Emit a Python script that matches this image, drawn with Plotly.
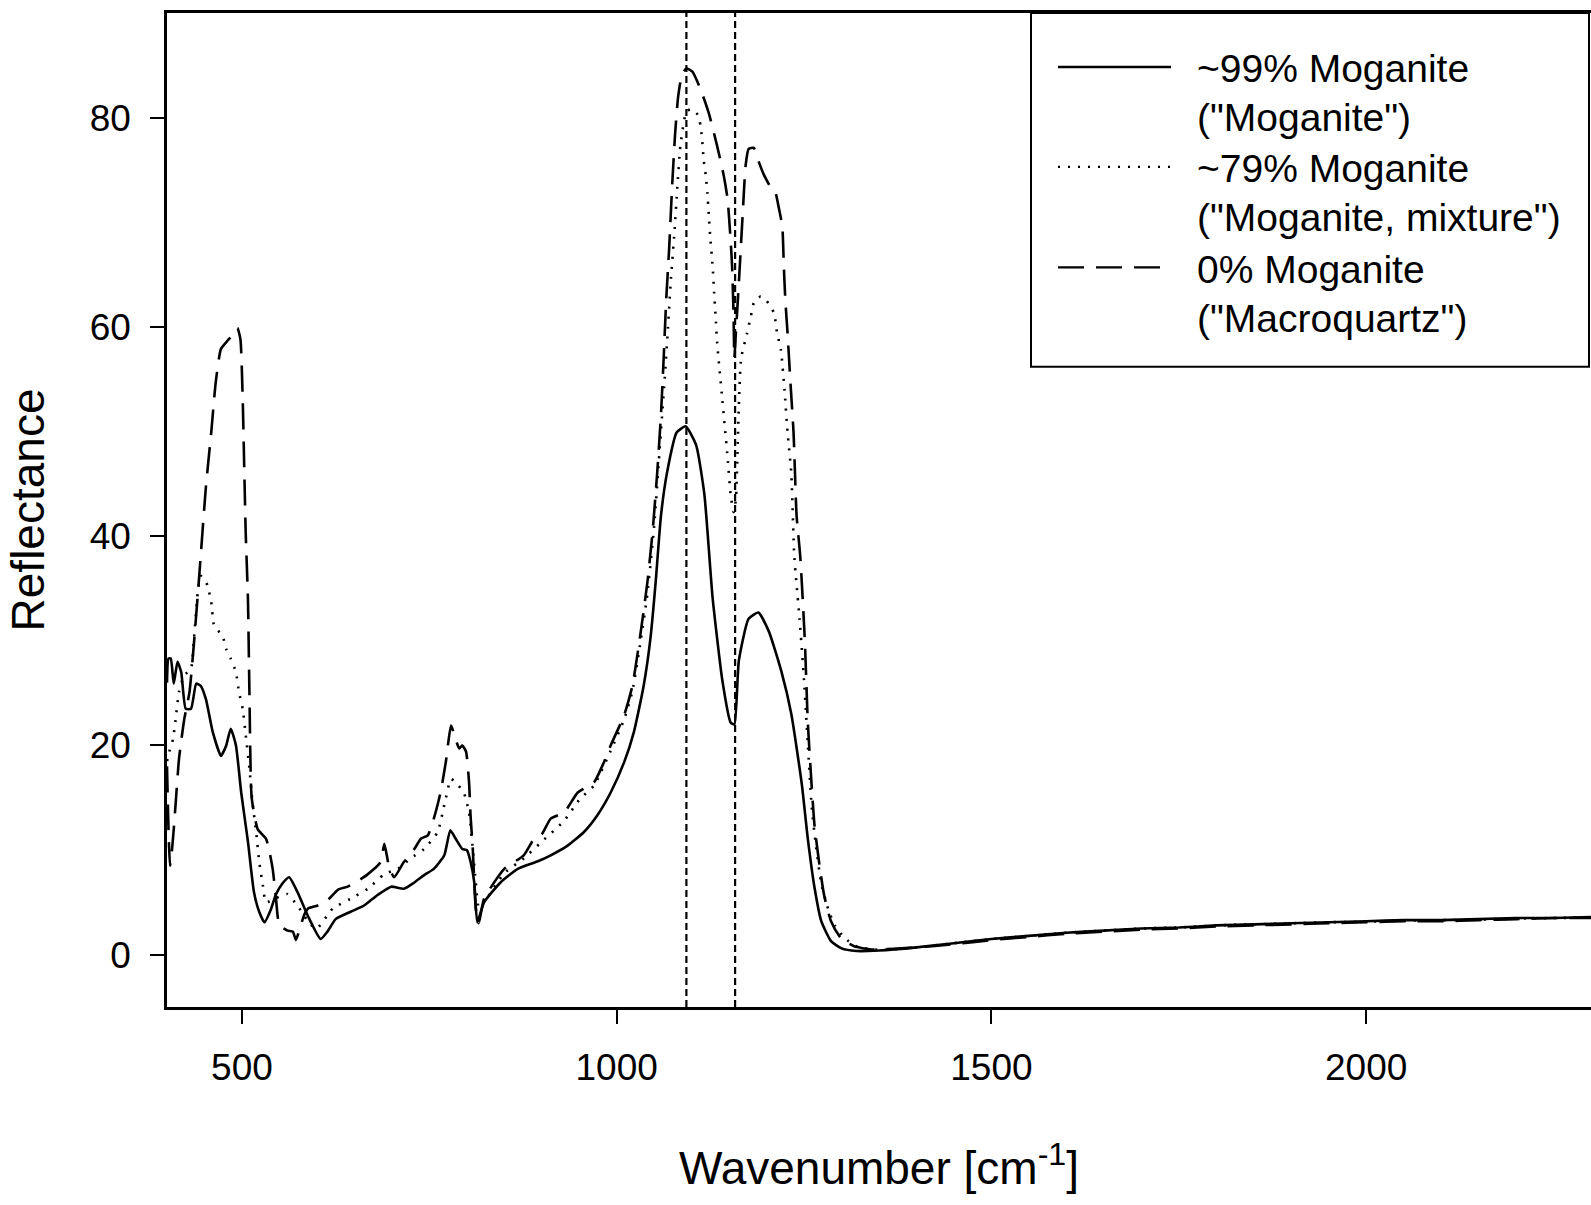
import plotly.graph_objects as go

# ---------------- data ----------------
moganite_99_wn = [400, 402, 405, 409, 414, 419, 425, 432, 439, 445, 452, 461, 472, 479, 485, 492,
                  499, 508, 516, 523, 530, 539, 545, 554, 563, 574, 588, 605, 614, 625, 645, 663,
                  681, 699, 716, 730, 743, 756, 770, 778, 785, 794, 800, 805, 810, 814, 823, 845,
                  868, 894, 912, 934, 956, 974, 992, 1010, 1023, 1036, 1045, 1052, 1059, 1067, 1080,
                  1092, 1106, 1117, 1128, 1141, 1152, 1157, 1163, 1176, 1189, 1203, 1220, 1233, 1247,
                  1255, 1264, 1273, 1286, 1300, 1320, 1350, 1400, 1450, 1500, 1550, 1600, 1650, 1700,
                  1750, 1800, 1850, 1900, 1950, 2000, 2050, 2100, 2150, 2200, 2250, 2300]
moganite_99_r = [26.0, 28.3, 28.3, 25.9, 28.0, 27.0, 23.5, 23.5, 25.9, 25.7, 24.4, 21.3, 19.0, 20.0, 21.6, 20.0,
                 15.5, 10.8, 6.0, 4.1, 3.1, 4.4, 5.7, 6.8, 7.4, 6.0, 3.7, 1.5, 2.2, 3.4, 4.1, 4.7,
                 5.7, 6.5, 6.3, 6.9, 7.6, 8.2, 9.5, 11.9, 11.1, 10.1, 10.0, 8.9, 6.9, 3.1, 5.0, 6.9,
                 8.2, 8.9, 9.5, 10.4, 11.7, 13.3, 15.5, 18.4, 21.3, 25.7, 30.2, 35.6, 41.9, 46.0, 49.9,
                 50.5, 48.7, 44.0, 34.1, 26.2, 22.2, 22.0, 28.1, 32.1, 32.7, 30.9, 27.0, 23.0, 16.3,
                 11.1, 6.4, 3.2, 1.3, 0.6, 0.35, 0.4, 0.7, 1.1, 1.5, 1.8, 2.1, 2.3, 2.5,
                 2.6, 2.8, 2.9, 3.0, 3.1, 3.2, 3.3, 3.3, 3.4, 3.5, 3.5, 3.6]

moganite_79_wn = [400, 403, 408, 412, 416, 423, 432, 436, 441, 445, 450, 454, 459, 463, 474, 479,
                  485, 492, 496, 501, 505, 510, 514, 519, 523, 528, 532, 545, 560, 575, 590, 600,
                  621, 645, 668, 690, 708, 725, 743, 761, 770, 779, 787, 796, 803, 808, 812, 816,
                  823, 850, 876, 900, 930, 950, 970, 992, 1010, 1021, 1032, 1041, 1050, 1058, 1064,
                  1068, 1072, 1077, 1081, 1085, 1093, 1099, 1108, 1112, 1114, 1116, 1119, 1121, 1123,
                  1125, 1128, 1130, 1132, 1134, 1141, 1148, 1152, 1156, 1159, 1161, 1163, 1166, 1174,
                  1179, 1183, 1192, 1200, 1210, 1214, 1219, 1224, 1228, 1233, 1237, 1244, 1250, 1255,
                  1260, 1266, 1273, 1282, 1291, 1304, 1320, 1350, 1400, 1450, 1500, 1550, 1600, 1650,
                  1700, 1750, 1800, 1850, 1900, 1950, 2000, 2050, 2100, 2150, 2200, 2250, 2300]
moganite_79_r = [18.5, 19.4, 20.6, 22.8, 25.1, 26.7, 27.3, 30.2, 34.6, 36.2, 35.8, 35.3, 33.7, 31.4, 30.5, 29.2,
                 28.3, 27.0, 25.1, 23.5, 21.0, 17.8, 14.6, 11.7, 8.9, 6.6, 5.0, 5.4, 5.8, 4.6, 3.0, 2.5,
                 4.4, 5.35, 6.3, 7.7, 8.2, 9.2, 10.1, 11.7, 14.3, 16.8, 16.3, 15.5, 13.6, 10.1, 6.9, 4.5,
                 5.0, 7.8, 9.2, 10.8, 12.8, 14.8, 16.2, 19.5, 22.5, 25.2, 30.0, 34.5, 41.0, 49.0, 55.0,
                 59.4, 64.2, 69.0, 73.4, 77.3, 80.6, 80.8, 80.3, 79.2, 77.9, 76.0, 74.4, 72.8, 70.6,
                 68.4, 65.8, 63.3, 61.0, 58.5, 53.0, 47.5, 44.0, 42.3, 43.5, 47.5, 52.5, 57.0, 59.4,
                 61.0, 62.3, 62.9, 62.5, 61.3, 59.4, 57.85, 53.9, 49.9, 46.0, 38.0, 32.1, 26.2, 20.2,
                 14.3, 10.3, 6.8, 4.4, 2.8, 1.6, 0.8, 0.45, 0.7, 1.1, 1.5, 1.8, 2.1, 2.3,
                 2.5, 2.6, 2.8, 2.9, 3.0, 3.1, 3.15, 3.25, 3.3, 3.35, 3.45, 3.5, 3.55]

macroquartz_wn = [400, 402, 404, 406, 409, 412, 416, 423, 430, 436, 443, 452, 459, 465, 472, 481,
                  490, 494, 498, 501, 503, 505, 508, 510, 513, 521, 532, 536, 541, 545, 550, 561,
                  568, 572, 576, 583, 588, 601, 614, 628, 641, 656, 668, 685, 690, 696, 703, 716,
                  730, 739, 748, 756, 765, 772, 779, 785, 790, 794, 799, 803, 805, 808, 810, 812,
                  816, 823, 850, 876, 890, 900, 912, 930, 948, 970, 983, 992, 1010, 1021, 1032,
                  1041, 1048, 1054, 1059, 1063, 1066, 1070, 1074, 1078, 1082, 1087, 1093, 1101,
                  1112, 1123, 1134, 1143, 1148, 1152, 1154, 1156, 1157, 1159, 1163, 1168, 1172,
                  1176, 1183, 1190, 1196, 1205, 1212, 1216, 1221, 1223, 1225, 1228, 1232, 1236,
                  1240, 1245, 1251, 1255, 1260, 1264, 1271, 1277, 1286, 1299, 1317, 1340, 1400,
                  1450, 1500, 1550, 1600, 1650, 1700, 1750, 1800, 1850, 1900, 1950, 2000, 2050,
                  2100, 2150, 2200, 2250, 2300]
macroquartz_r = [18.0, 12.0, 8.5, 9.5, 12.0, 14.9, 18.7, 22.5, 25.1, 29.8, 36.2, 44.8, 49.9, 54.7, 57.9, 58.7,
                 59.4, 59.9, 58.8, 53.1, 46.7, 40.4, 34.0, 25.0, 15.0, 12.0, 11.1, 10.1, 8.2, 5.7, 2.8, 2.3,
                 2.2, 1.4, 2.2, 3.8, 4.4, 4.7, 5.2, 6.2, 6.5, 7.1, 7.7, 8.85, 10.6, 8.5, 7.4, 8.85,
                 10.1, 11.1, 11.4, 13.0, 15.5, 18.4, 21.9, 20.6, 19.7, 20.0, 19.4, 16.5, 13.3, 10.1, 6.9, 4.4,
                 3.0, 5.35, 8.2, 9.5, 11.1, 11.5, 13.0, 13.6, 15.5, 16.5, 18.4, 20.0, 22.9, 25.7, 30.8,
                 35.6, 40.5, 46.0, 51.5, 57.5, 62.5, 67.5, 73.5, 78.5, 82.0, 84.1, 84.7, 84.4,
                 82.7, 80.4, 77.3, 74.4, 72.2, 68.3, 65.8, 61.0, 57.0, 59.4, 64.2, 70.6, 75.4,
                 77.0, 77.1, 75.7, 74.6, 73.4, 72.8, 71.5, 69.6, 65.8, 62.6, 59.4, 54.5, 49.9,
                 42.0, 38.0, 30.1, 22.2, 16.3, 12.3, 8.35, 5.6, 3.2, 1.6, 0.8, 0.5, 0.7,
                 1.0, 1.4, 1.7, 2.0, 2.2, 2.4, 2.5, 2.7, 2.8, 2.9, 3.0, 3.1, 3.2,
                 3.2, 3.3, 3.4, 3.5, 3.5]

series_labels = ["~99% Moganite", "~79% Moganite", "0% Moganite"]
series_sublabels = ['("Moganite")', '("Moganite, mixture")', '("Macroquartz")']
reference_lines_wn = [1093, 1158]
x_ticks = [500, 1000, 1500, 2000]
y_ticks = [0, 20, 40, 60, 80]

# ---------------- styling / layout (pixels of the 1591x1205 page) ----------------
FONT = "Liberation Sans, Arial, sans-serif"
W, H = 1591, 1205
ML, MR, MT, MB = 167, 0, 13, 197.5
PW, PH = W - ML - MR, H - MT - MB
DASHES = [None, "2px,8px", "26px,12px"]


def px_x(px):
    return (px - ML) / PW


def px_y(py):
    return (H - MB - py) / PH


fig = go.Figure()
series = [(moganite_99_wn, moganite_99_r), (moganite_79_wn, moganite_79_r), (macroquartz_wn, macroquartz_r)]
for (wn, r), lab, sub, dash in zip(series, series_labels, series_sublabels, DASHES):
    fig.add_trace(go.Scatter(x=wn, y=r, mode="lines", name=f"{lab} {sub}", showlegend=False,
                             line=dict(color="black", width=2.6, dash=dash, shape="spline", smoothing=0.5)))

for wn in reference_lines_wn:
    fig.add_shape(type="line", xref="x", yref="paper", x0=wn, x1=wn, y0=0, y1=1,
                  line=dict(color="black", width=2.2, dash="7px,4px"), layer="above")

# ---- legend box drawn like the original (long line keys, two-line labels) ----
fig.add_shape(type="rect", xref="paper", yref="paper",
              x0=px_x(1031), x1=px_x(1589), y0=px_y(367), y1=px_y(13),
              line=dict(color="black", width=2), fillcolor="white", layer="above")
entry_top = [69, 169, 269.5]
line_gap = 49
for i, (lab, sub, dash) in enumerate(zip(series_labels, series_sublabels, DASHES)):
    y0 = entry_top[i]
    fig.add_shape(type="line", xref="paper", yref="paper",
                  x0=px_x(1058), x1=px_x(1171), y0=px_y(y0 - 2), y1=px_y(y0 - 2),
                  line=dict(color="black", width=2.4, dash=dash), layer="above")
    for j, txt in enumerate([lab, sub]):
        fig.add_annotation(xref="paper", yref="paper", x=px_x(1195), y=px_y(y0 + j * line_gap),
                           xanchor="left", yanchor="middle", text=txt, showarrow=False,
                           font=dict(family=FONT, size=39, color="black"))

fig.update_layout(
    width=W, height=H,
    margin=dict(l=ML, r=MR, t=MT, b=MB, autoexpand=False),
    paper_bgcolor="white", plot_bgcolor="white",
    font=dict(family=FONT, color="black", size=37),
    showlegend=False,
    xaxis=dict(range=[400, 2300], tickvals=x_ticks, ticks="outside", ticklen=14, tickwidth=2,
               tickcolor="black", showline=True, linecolor="black", linewidth=2.5, mirror=True,
               showgrid=False, zeroline=False, tickfont=dict(size=37), ticklabelstandoff=12,
               automargin=False,
               title=dict(text="Wavenumber [cm<sup>-1</sup>]", font=dict(size=46), standoff=65)),
    yaxis=dict(range=[-5, 90], tickvals=y_ticks, ticks="outside", ticklen=14, tickwidth=2,
               tickcolor="black", showline=True, linecolor="black", linewidth=2.5, mirror=True,
               showgrid=False, zeroline=False, tickfont=dict(size=37), ticklabelstandoff=12,
               automargin=False,
               title=dict(text="Reflectance", font=dict(size=46), standoff=31)),
)

fig.write_html("out.html", config={"displayModeBar": False},
               post_script="document.body.style.margin='0px';document.body.style.overflow='hidden';")
